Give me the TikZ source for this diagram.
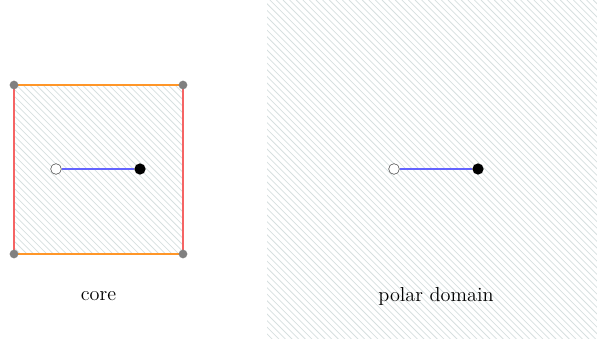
\documentclass[tikz,border=0pt]{standalone}
\usepackage{tikz}
\usetikzlibrary{positioning}
\definecolor{hatchgray}{RGB}{214,223,223}
\definecolor{edgered}{RGB}{245,100,100}
\definecolor{edgeorange}{RGB}{255,150,40}
\definecolor{bondblue}{RGB}{100,100,255}
\tikzset{
  hatchline/.style={hatchgray,line width=0.55pt},
  corner/.style={circle,fill=gray,inner sep=0pt,minimum size=6.2pt},
  opendot/.style={circle,draw=black!70,fill=white,inner sep=0pt,minimum size=7.6pt,line width=0.4pt},
  fulldot/.style={circle,fill=black,inner sep=0pt,minimum size=8pt},
  bondline/.style={color=bondblue,line width=1.1pt},
  celledge/.style={line width=0.8pt},
  caption/.style={font=\Large}
}

\begin{document}
\begin{tikzpicture}[x=0.025cm,y=-0.025cm]
\useasboundingbox (0,0) rectangle (597,340);
% core cell
\begin{scope}
  \coordinate (nw) at (14,85);
  \coordinate (ne) at (183,85);
  \coordinate (se) at (183,254);
  \coordinate (sw) at (14,254);
  \begin{scope}
    \clip (nw) rectangle (se);
    \foreach \a in {-180,-173.4,...,190} \draw[hatchline] (\a,80) -- ++(180,180);
  \end{scope}
  \draw[celledge,draw=edgeorange] (nw) -- (ne);
  \draw[celledge,draw=edgeorange] (sw) -- (se);
  \draw[celledge,draw=edgered] (nw) -- (sw);
  \draw[celledge,draw=edgered] (ne) -- (se);
  \foreach \c in {nw,ne,se,sw} \node[corner] at (\c) {};
  \node[opendot] (coreA) at (56,169) {};
  \node[fulldot] (coreB) at (140,169) {};
  \draw[bondline] (coreA) -- (coreB);
  \node[caption] (corelbl) at (98.5,296) {core};
\end{scope}
% polar domain
\begin{scope}
  \begin{scope}
    \clip (267,0) rectangle (597,338);
    \foreach \a in {-80,-73.4,...,600} \draw[hatchline] (\a,0) -- ++(345,345);
  \end{scope}
  \node[opendot] (polA) at (394,169) {};
  \node[fulldot] (polB) at (478,169) {};
  \draw[bondline] (polA) -- (polB);
  \node[caption] (pollbl) at (436,296) {polar domain};
\end{scope}
\end{tikzpicture}
\end{document}
